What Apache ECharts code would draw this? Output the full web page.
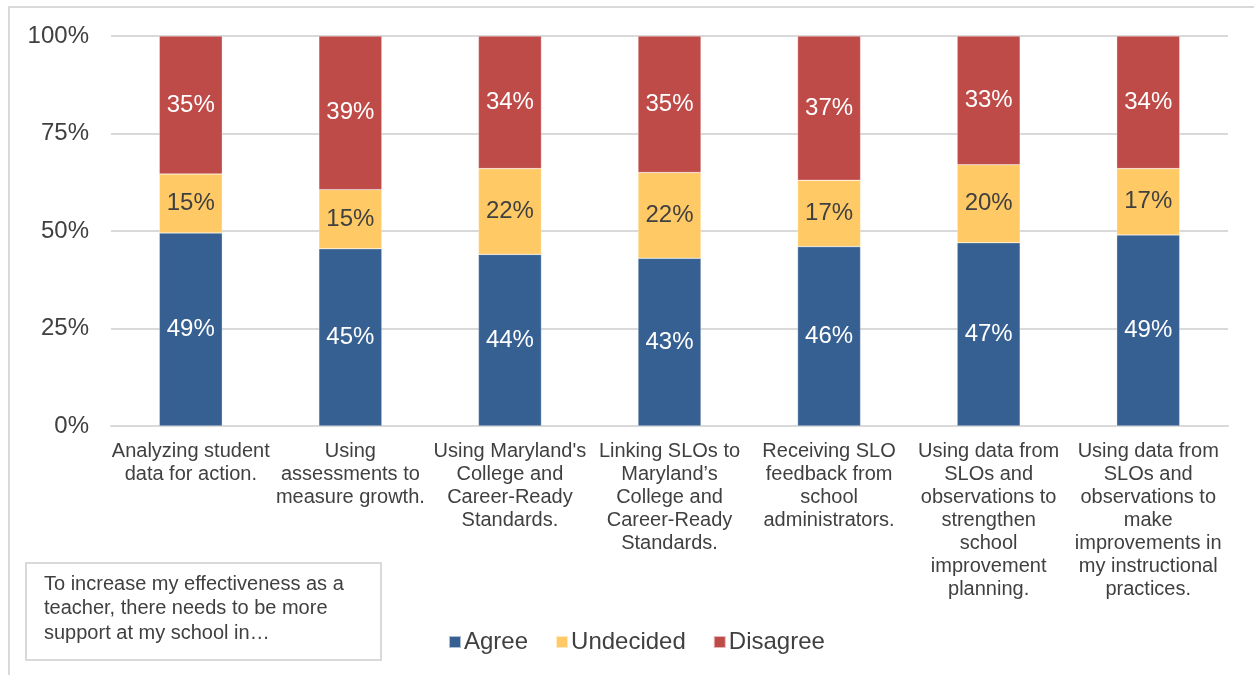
<!DOCTYPE html>
<html>
<head>
<meta charset="utf-8">
<title>Support needed at my school</title>
<script src="https://cdn.jsdelivr.net/npm/echarts@6/dist/echarts.min.js"></script>
<style>
  html, body { margin: 0; padding: 0; background: #ffffff; }
  #chart { width: 1254px; height: 675px; }
</style>
</head>
<body>
<div id="chart"></div>
<script>
// Survey areas (x-axis categories, line breaks as printed)
var categories = [
  'Analyzing student\ndata for action.',
  'Using\nassessments to\nmeasure growth.',
  "Using Maryland's\nCollege and\nCareer-Ready\nStandards.",
  'Linking SLOs to\nMaryland\u2019s\nCollege and\nCareer-Ready\nStandards.',
  'Receiving SLO\nfeedback from\nschool\nadministrators.',
  'Using data from\nSLOs and\nobservations to\nstrengthen\nschool\nimprovement\nplanning.',
  'Using data from\nSLOs and\nobservations to\nmake\nimprovements in\nmy instructional\npractices.'
];

// Response shares in percent
var agree     = [49, 45, 44, 43, 46, 47, 49];
var undecided = [15, 15, 22, 22, 17, 20, 17];
var disagree  = [35, 39, 34, 35, 37, 33, 34];

var yTicks = ['0%', '25%', '50%', '75%', '100%'];

var textColor = '#404040';
var gridColor = '#d9d9d9';
var fontFamily = '"Liberation Sans", Arial, Helvetica, sans-serif';

// 100% stacked: each column is scaled to its own total, labels keep the reported percent
var totals = agree.map(function (v, i) { return v + undecided[i] + disagree[i]; });
function shares(arr) {
  return arr.map(function (v, i) { return { value: v / totals[i] * 100, raw: v }; });
}

function makeSeries(name, arr, color, labelColor) {
  return {
    name: name,
    type: 'bar',
    stack: 'total',
    barWidth: 63,
    data: shares(arr),
    itemStyle: { color: color, borderColor: 'rgba(255,255,255,0.6)', borderWidth: 0.5 },
    label: {
      show: true,
      position: 'inside',
      color: labelColor,
      fontSize: 24,
      fontFamily: fontFamily,
      formatter: function (p) { return p.data.raw + '%'; }
    },
    emphasis: { disabled: true }
  };
}

var chart = echarts.init(document.getElementById('chart'), null, { renderer: 'canvas' });

chart.setOption({
  animation: false,
  backgroundColor: '#ffffff',
  textStyle: { fontFamily: fontFamily },
  grid: { left: 111, right: 26, top: 36, bottom: 249, containLabel: false },
  legend: {
    data: ['Agree', 'Undecided', 'Disagree'],
    left: 448,
    top: 630,
    padding: 0,
    itemWidth: 12,
    itemHeight: 12,
    itemGap: 27,
    icon: 'rect',
    textStyle: { color: textColor, fontSize: 24, fontFamily: fontFamily, padding: [0, 0, 0, -2] }
  },
  xAxis: {
    type: 'category',
    data: categories,
    axisTick: { show: false },
    axisLine: { show: true, lineStyle: { color: gridColor, width: 2 } },
    axisLabel: {
      interval: 0,
      color: textColor,
      fontSize: 20,
      lineHeight: 23,
      margin: 14,
      fontFamily: fontFamily
    }
  },
  yAxis: {
    type: 'value',
    min: 0,
    max: 100,
    interval: 25,
    axisLine: { show: false },
    axisTick: { show: false },
    splitLine: { lineStyle: { color: gridColor, width: 2 } },
    axisLabel: {
      color: textColor,
      fontSize: 24,
      margin: 22,
      fontFamily: fontFamily,
      formatter: function (v) { return yTicks[Math.round(v / 25)]; }
    }
  },
  series: [
    makeSeries('Agree', agree, '#376092', '#ffffff'),
    makeSeries('Undecided', undecided, '#ffca65', '#404040'),
    makeSeries('Disagree', disagree, '#be4b48', '#ffffff')
  ],
  graphic: [
    {
      type: 'rect',
      silent: true,
      shape: { x: 9, y: 7, width: 1300, height: 720 },
      style: { fill: null, stroke: gridColor, lineWidth: 2 }
    },
    {
      type: 'rect',
      silent: true,
      shape: { x: 26, y: 563, width: 355, height: 97 },
      style: { fill: '#ffffff', stroke: gridColor, lineWidth: 2 }
    },
    {
      type: 'text',
      silent: true,
      left: 44,
      top: 572,
      style: {
        text: 'To increase my effectiveness as a\nteacher, there needs to be more\nsupport at my school in\u2026',
        fill: textColor,
        fontSize: 20,
        lineHeight: 24.5,
        fontFamily: fontFamily
      }
    }
  ]
});
</script>
</body>
</html>
